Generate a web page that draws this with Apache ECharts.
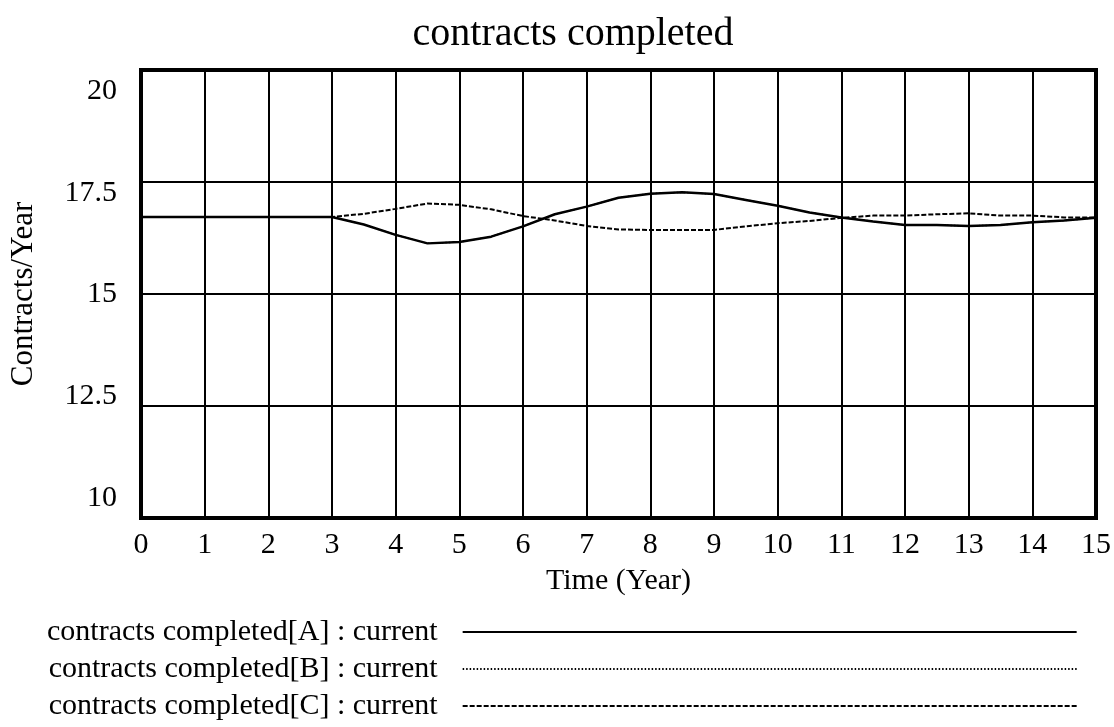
<!DOCTYPE html>
<html>
<head>
<meta charset="utf-8">
<script src="https://cdn.jsdelivr.net/npm/echarts@6/dist/echarts.min.js"></script>
<style>
  html, body { margin: 0; padding: 0; background: #fff; }
  #chart { width: 1114px; height: 727px; }
</style>
</head>
<body>
<div id="chart"></div>
<script>
// time in years
const years = [0, 0.5, 1, 1.5, 2, 2.5, 3, 3.5, 4, 4.5, 5, 5.5, 6, 6.5, 7, 7.5,
    8, 8.5, 9, 9.5, 10, 10.5, 11, 11.5, 12, 12.5, 13, 13.5, 14, 14.5, 15]

const contractsA = [16.72, 16.72, 16.72, 16.72, 16.72, 16.72, 16.72, 16.55, 16.32, 16.13, 16.16, 16.28,
    16.51, 16.78, 16.95, 17.15, 17.24, 17.27, 17.23, 17.10, 16.97, 16.82, 16.71, 16.62, 16.54, 16.54,
    16.52, 16.54, 16.60, 16.64, 16.70]
// B sits under A in the picture
const contractsB = [16.72, 16.72, 16.72, 16.72, 16.72, 16.72, 16.72, 16.55, 16.32, 16.13, 16.16, 16.28,
    16.51, 16.78, 16.95, 17.15, 17.24, 17.27, 17.23, 17.10, 16.97, 16.82, 16.71, 16.62, 16.54, 16.54,
    16.52, 16.54, 16.60, 16.64, 16.70]
const contractsC = [16.72, 16.72, 16.72, 16.72, 16.72, 16.72, 16.72, 16.79, 16.90, 17.02, 16.99, 16.89,
    16.74, 16.64, 16.52, 16.44, 16.43, 16.43, 16.43, 16.51, 16.58, 16.63, 16.70, 16.75, 16.75, 16.78,
    16.80, 16.75, 16.75, 16.71, 16.71]

const seriesNames = [
    'contracts completed[A] : current',
    'contracts completed[B] : current',
    'contracts completed[C] : current',
]

const pairs = (vals) => years.map((t, i) => [t, vals[i]])

const font = '"Liberation Serif", "Times New Roman", serif'

// vensim-ish label offsets (labels spread a bit inside the frame)
const yLabelStyle = {
    20: 'l20',
    17.5: 'l175',
    15: 'l15',
    12.5: 'l125',
    10: 'l10',
}

const option = {
    animation: false,
    title: {
        text: 'contracts completed',
        left: 568,
        top: 9,
        textAlign: 'center',
        textStyle: { fontFamily: font, fontSize: 40, fontWeight: 'normal', color: '#000' },
    },
    grid: {
        left: 139,
        right: 18,
        top: 70,
        bottom: 209,
        show: true,
        borderColor: '#000',
        borderWidth: 4,
    },
    legend: {
        orient: 'vertical',
        left: 47,
        top: 617,
        padding: 0,
        height: 110,
        align: 'right',
        selectedMode: false,
        itemWidth: 614,
        itemHeight: 14,
        itemGap: 7,
        itemStyle: { opacity: 0 },
        textStyle: { fontFamily: font, fontSize: 30, color: '#000', padding: [0, 20, 0, 0], lineHeight: 30 },
        data: seriesNames,
    },
    xAxis: {
        type: 'value',
        min: 0,
        max: 15,
        interval: 1,
        name: 'Time (Year)',
        nameLocation: 'middle',
        nameGap: 48,
        nameTextStyle: { fontFamily: font, fontSize: 30, color: '#000' },
        axisLine: { show: false },
        axisTick: { show: false },
        axisLabel: { fontFamily: font, fontSize: 30, color: '#000', margin: 12 },
        splitLine: { show: true, lineStyle: { color: '#000', width: 2 } },
    },
    yAxis: {
        type: 'value',
        min: 10,
        max: 20,
        interval: 2.5,
        name: 'Contracts/Year',
        nameLocation: 'middle',
        nameGap: 102,
        nameTextStyle: { fontFamily: font, fontSize: 31, color: '#000' },
        axisLine: { show: false },
        axisTick: { show: false },
        axisLabel: {
            fontFamily: font,
            fontSize: 30,
            color: '#000',
            margin: 24,
            formatter: (value) => '{' + yLabelStyle[value] + '|' + value + '}',
            rich: {
                l20: { fontFamily: font, fontSize: 30, padding: [42, 0, 0, 0] },
                l175: { fontFamily: font, fontSize: 30, padding: [22, 0, 0, 0] },
                l15: { fontFamily: font, fontSize: 30 },
                l125: { fontFamily: font, fontSize: 30, padding: [0, 0, 20, 0] },
                l10: { fontFamily: font, fontSize: 30, padding: [0, 0, 40, 0] },
            },
        },
        splitLine: { show: true, lineStyle: { color: '#000', width: 2 } },
    },
    series: [
        {
            name: seriesNames[1],
            type: 'line',
            symbol: 'none',
            z: 2,
            lineStyle: { color: '#000', width: 1.5, type: [1.5, 2] },
            itemStyle: { color: '#000' },
            data: pairs(contractsB),
        },
        {
            name: seriesNames[0],
            type: 'line',
            symbol: 'none',
            z: 3,
            lineStyle: { color: '#000', width: 2.5 },
            itemStyle: { color: '#000' },
            data: pairs(contractsA),
        },
        {
            name: seriesNames[2],
            type: 'line',
            symbol: 'none',
            z: 4,
            lineStyle: { color: '#000', width: 2, type: [5, 2] },
            itemStyle: { color: '#000' },
            data: pairs(contractsC),
        },
    ],
}

let myChart = echarts.init(document.getElementById('chart'))
myChart.setOption(option)
window.addEventListener('resize', myChart.resize)
</script>
</body>
</html>
